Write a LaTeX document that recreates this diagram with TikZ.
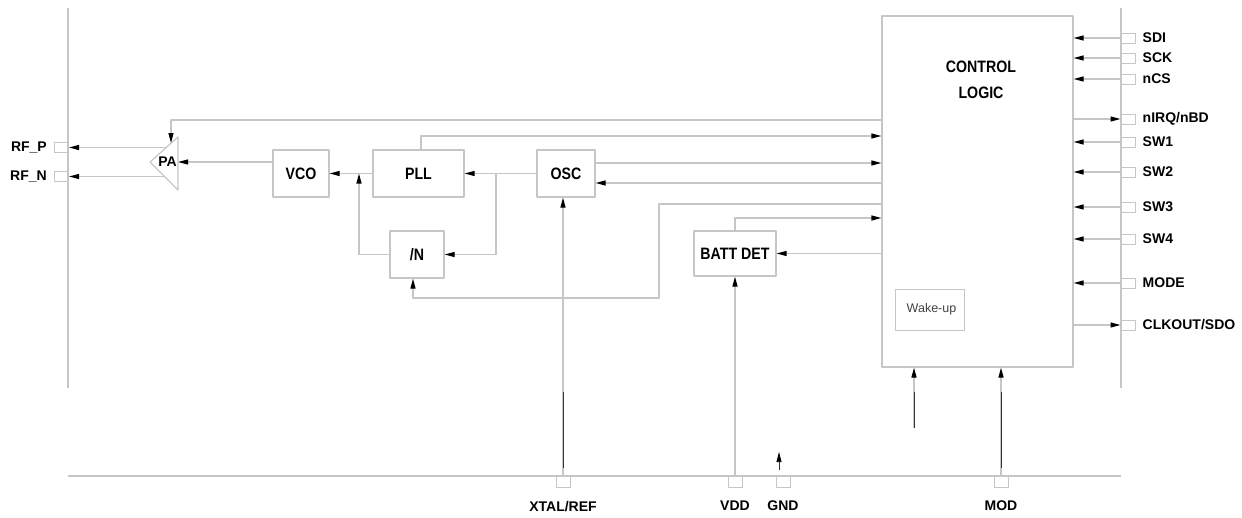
\documentclass[tikz,border=0pt]{standalone}
\usepackage{fontspec}
\setmainfont{Liberation Sans}
\newfontfamily\blkfont[FakeStretch=0.86]{Liberation Sans}
\usetikzlibrary{arrows.meta}
\definecolor{linegray}{RGB}{198,198,198}
\tikzset{
  blk/.style={draw=linegray, line width=1.2pt, inner sep=0pt, font=\blkfont\fontsize{16.5}{26}\selectfont\bfseries},
  pin/.style={draw=linegray, line width=1pt, minimum width=14pt, minimum height=10pt, inner sep=0pt},
  lab/.style={font=\fontsize{14}{14}\selectfont\bfseries, inner sep=0pt},
  wire/.style={draw=linegray, line width=1.2pt},
  sig/.style={wire, -{Triangle[color=black,length=10pt,width=5pt]}},
  dark/.style={draw=black!80, line width=0.7pt}
}
\begin{document}
\begin{tikzpicture}[x=1pt, y=-1pt, line join=round]
  \useasboundingbox (0,0) rectangle (1242,517);
  % frame
  \draw[wire] (68,8) -- (68,388);
  \draw[wire] (1121,8) -- (1121,388);
  \draw[wire] (68,476) -- (1121,476);

  % blocks
  \node[blk, minimum width=191pt, minimum height=351pt] (ctrl) at (977.5,191.5) {};
  \node[blk, draw=none, align=center] (ctrl-txt) at (981,80) {CONTROL\\LOGIC};
  \node[draw=linegray, line width=0.9pt, minimum width=69pt, minimum height=41pt, inner sep=0pt,
        font=\fontsize{12.5}{12}\selectfont, text=black!75] (wake) at (929.5,309.5) {\hspace{4pt}Wake-up};
  \node[blk, minimum width=56pt, minimum height=47pt] (vco) at (301,173.5) {VCO};
  \node[blk, minimum width=91pt, minimum height=47pt] (pll) at (418.5,173.5) {PLL};
  \node[blk, minimum width=58pt, minimum height=47pt] (osc) at (566,173.5) {OSC};
  \node[blk, minimum width=54pt, minimum height=47pt] (dvn) at (417,254.5) {/N};
  \node[blk, minimum width=82pt, minimum height=45pt] (batt) at (735,253.5) {BATT DET};

  % PA
  \coordinate (pa-tip) at (150,162);
  \coordinate (pa-top) at (178,137);
  \coordinate (pa-bot) at (178,190);
  \draw[wire] (pa-tip) -- (pa-top) -- (pa-bot) -- cycle;
  \node[lab] (pa) at (167.5,162) {PA};
  \coordinate (pa-e) at (178,162);
  \coordinate (pa-in) at (171,143);
  \coordinate (pa-p) at (167,147.5);
  \coordinate (pa-n) at (165,176.5);

  % pins
  \node[pin, label={[lab, label distance=7pt]left:RF\_P}] (rfp) at (61.5,147.5) {};
  \node[pin, label={[lab, label distance=7pt]left:RF\_N}] (rfn) at (61.5,176.5) {};
  \node[pin, label={[lab, label distance=7pt]right:SDI}] (sdi) at (1128,38) {};
  \node[pin, label={[lab, label distance=7pt]right:SCK}] (sck) at (1128,58) {};
  \node[pin, label={[lab, label distance=7pt]right:nCS}] (ncs) at (1128,79) {};
  \node[pin, label={[lab, label distance=7pt]right:nIRQ/nBD}] (nirq) at (1128,119) {};
  \node[pin, label={[lab, label distance=7pt]right:SW1}] (sw1) at (1128,142) {};
  \node[pin, label={[lab, label distance=7pt]right:SW2}] (sw2) at (1128,172) {};
  \node[pin, label={[lab, label distance=7pt]right:SW3}] (sw3) at (1128,207) {};
  \node[pin, label={[lab, label distance=7pt]right:SW4}] (sw4) at (1128,239) {};
  \node[pin, label={[lab, label distance=7pt]right:MODE}] (mode) at (1128,283) {};
  \node[pin, label={[lab, label distance=7pt]right:CLKOUT/SDO}] (clk) at (1128,325) {};
  \node[pin, minimum height=11pt, label={[lab, label distance=14pt]below:XTAL/REF}] (xtal) at (563,481.5) {};
  \node[pin, minimum height=11pt, label={[lab, label distance=13pt]below:VDD}] (vdd) at (735,481.5) {};
  \node[pin, minimum height=11pt, label={[lab, label distance=13pt]below:GND}] (gnd) at (783,481.5) {};
  \node[pin, minimum height=11pt, label={[lab, label distance=13pt]below:MOD}] (mod) at (1001,481.5) {};

  % RF path
  \draw[sig] (pa-p) -- (rfp);
  \draw[sig] (pa-n) -- (rfn);
  \draw[sig] (vco.west |- pa-e) -- (pa-e);
  \draw[sig] (pll) -- (vco);
  \draw[sig] (osc) -- (pll);
  \coordinate (fb) at (359,173.5);
  \coordinate (br) at (496,173.5);
  \draw[sig] (dvn.west) -| (fb);
  \draw[sig] (br) |- (dvn.east);

  % links to control logic
  \draw[sig] (ctrl.west |- 0,120) -| (pa-in);
  \draw[sig] ([xshift=2.5pt]pll.north) |- (ctrl.west |- 0,136);
  \draw[sig] (osc.east |- 0,163) -- (ctrl.west |- 0,163);
  \draw[sig] (ctrl.west |- 0,183) -- (osc.east |- 0,183);
  \draw[sig] (ctrl.west |- 0,204) -| (659,298) -| ([xshift=-4pt]dvn.south);
  \draw[sig] (batt.north) |- (ctrl.west |- 0,218);
  \draw[sig] (ctrl.west |- batt.east) -- (batt.east);

  % right side pins
  \draw[sig] (sdi) -- (sdi -| ctrl.east);
  \draw[sig] (sck) -- (sck -| ctrl.east);
  \draw[sig] (ncs) -- (ncs -| ctrl.east);
  \draw[sig] (nirq -| ctrl.east) -- (nirq);
  \draw[sig] (sw1) -- (sw1 -| ctrl.east);
  \draw[sig] (sw2) -- (sw2 -| ctrl.east);
  \draw[sig] (sw3) -- (sw3 -| ctrl.east);
  \draw[sig] (sw4) -- (sw4 -| ctrl.east);
  \draw[sig] (mode) -- (mode -| ctrl.east);
  \draw[sig] (clk -| ctrl.east) -- (clk);

  % bottom pins
  \draw[sig] (xtal) -- (xtal |- osc.south);
  \draw[sig] (vdd) -- (vdd |- batt.south);
  \draw[sig] (mod) -- (mod |- ctrl.south);
  \coordinate (wk-a) at (914,428);
  \draw[sig] (wk-a) -- (wk-a |- ctrl.south);
  \coordinate (gnd-a) at (779,470);
  \draw[sig, draw=black!80, line width=0.7pt] (gnd-a) -- ++(0,-18);
  \draw[dark] (563,392) -- (563,468);
  \draw[dark] (1001,392) -- (1001,468);
  \draw[dark] (914,392) -- (wk-a);
\end{tikzpicture}
\end{document}
